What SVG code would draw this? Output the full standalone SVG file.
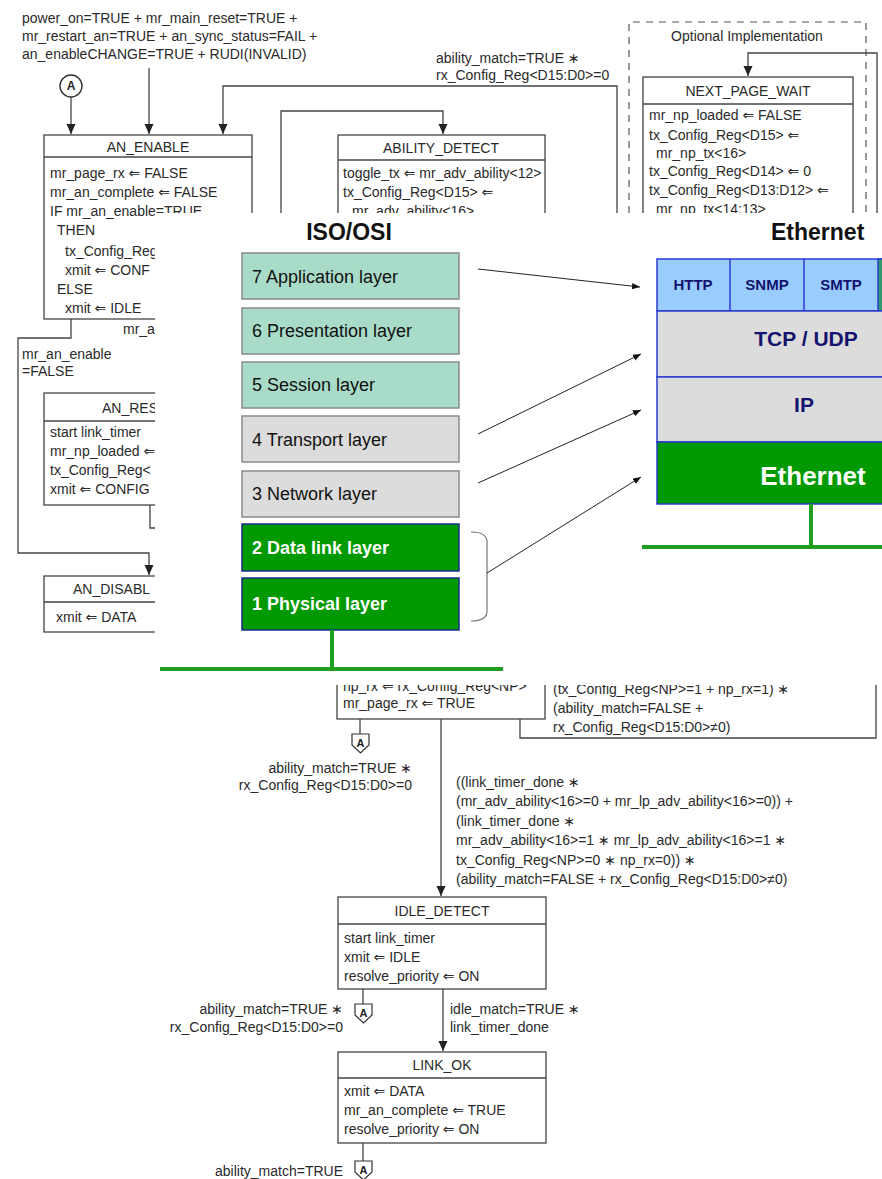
<svg xmlns="http://www.w3.org/2000/svg" width="882" height="1179" viewBox="0 0 882 1179">
<defs>
<style>
.t{font-family:"Liberation Sans",Arial,"DejaVu Sans",sans-serif;font-size:14px;fill:#2a2a2a}
.c{text-anchor:middle}
.r{text-anchor:end}
.box{fill:#fff;stroke:#444;stroke-width:1.3}
.ln{fill:none;stroke:#444;stroke-width:1.3}
.dash{fill:none;stroke:#555;stroke-width:1.2;stroke-dasharray:7,6}
.ol{font-family:"Liberation Sans",Arial,sans-serif}
.teal{fill:#a9dbc9;stroke:#8a8a8a;stroke-width:1.5}
.grey{fill:#dcdcdc;stroke:#8a8a8a;stroke-width:1.5}
.grn{fill:#009900;stroke:#1c2a8c;stroke-width:1.5}
.lt{font-size:18px;fill:#111}
.lw{font-size:18px;fill:#fff;font-weight:bold}
.st{stroke:#2b3bd0;stroke-width:1.5}
.nav{fill:#14146e;font-weight:bold}
.gl{fill:none;stroke:#1f9e1f;stroke-width:4}
.ar{fill:none;stroke:#222;stroke-width:1}
.ca{font-family:"Liberation Sans",Arial,sans-serif;font-size:11px;font-weight:bold;fill:#222;text-anchor:middle}
</style>
<marker id="ah" viewBox="0 0 10 10" refX="10" refY="5" markerWidth="10" markerHeight="10" markerUnits="userSpaceOnUse" orient="auto"><path d="M0,0.5 L10,5 L0,9.5 z" fill="#222"/></marker>
<marker id="sa" viewBox="0 0 10 10" refX="10" refY="5" markerWidth="8" markerHeight="8" markerUnits="userSpaceOnUse" orient="auto"><path d="M0,1 L10,5 L0,9 z" fill="#111"/></marker>
</defs>
<rect width="882" height="1179" fill="#fff"/>

<!-- background state diagram -->
<g id="reset-condition">
<text class="t" x="22" y="23">power_on=TRUE + mr_main_reset=TRUE +</text>
<text class="t" x="22" y="41">mr_restart_an=TRUE + an_sync_status=FAIL +</text>
<text class="t" x="22" y="59">an_enableCHANGE=TRUE + RUDI(INVALID)</text>
</g>
<g id="connector-A-top">
<circle cx="71" cy="86" r="11" fill="#fff" stroke="#333" stroke-width="1.4"/>
<text class="ca" x="71" y="90" style="font-size:12px">A</text>
</g>
<g id="optional-impl">
<path class="dash" d="M629,213 V22 H866 V213"/>
<text class="t c" x="747" y="41">Optional Implementation</text>
</g>

<g id="connectors">
<path class="ln" d="M71,97 V134" marker-end="url(#ah)"/>
<path class="ln" d="M149,68 V134" marker-end="url(#ah)"/>
<path class="ln" d="M617,214 V86 H223 V134" marker-end="url(#ah)"/>
<path class="ln" d="M281,214 V111 H443 V134" marker-end="url(#ah)"/>
<path class="ln" d="M877,214 V53 H748 V76" marker-end="url(#ah)"/>
<path class="ln" d="M71,319 V338 H18 V553 H149 V575" marker-end="url(#ah)"/>
<path class="ln" d="M150,505 V528 H165"/>
<path class="ln" d="M360,719 V734"/>
<path class="ln" d="M441,719 V896" marker-end="url(#ah)"/>
<path class="ln" d="M520,719 V738 H876 V680"/>
<path class="ln" d="M363,989 V1004"/>
<path class="ln" d="M443,989 V1051" marker-end="url(#ah)"/>
<path class="ln" d="M363,1143 V1161"/>
<text class="t" x="436" y="63">ability_match=TRUE ∗</text>
<text class="t" x="436" y="80">rx_Config_Reg&lt;D15:D0&gt;=0</text>
<text class="t" x="123" y="334">mr_a</text>
<text class="t" x="22" y="359">mr_an_enable</text>
<text class="t" x="22" y="376">=FALSE</text>
<text class="t" x="553" y="694">(tx_Config_Reg&lt;NP&gt;=1 + np_rx=1) ∗</text>
<text class="t" x="553" y="713">(ability_match=FALSE +</text>
<text class="t" x="553" y="732">rx_Config_Reg&lt;D15:D0&gt;≠0)</text>
<text class="t r" x="412" y="773">ability_match=TRUE ∗</text>
<text class="t r" x="412" y="790">rx_Config_Reg&lt;D15:D0&gt;=0</text>
<text class="t" x="456" y="787">((link_timer_done ∗</text>
<text class="t" x="456" y="806">(mr_adv_ability&lt;16&gt;=0 + mr_lp_adv_ability&lt;16&gt;=0)) +</text>
<text class="t" x="456" y="826">(link_timer_done ∗</text>
<text class="t" x="456" y="845">mr_adv_ability&lt;16&gt;=1 ∗ mr_lp_adv_ability&lt;16&gt;=1 ∗</text>
<text class="t" x="456" y="865">tx_Config_Reg&lt;NP&gt;=0 ∗ np_rx=0)) ∗</text>
<text class="t" x="456" y="884">(ability_match=FALSE + rx_Config_Reg&lt;D15:D0&gt;≠0)</text>
<text class="t r" x="343" y="1014">ability_match=TRUE ∗</text>
<text class="t r" x="343" y="1032">rx_Config_Reg&lt;D15:D0&gt;=0</text>
<text class="t" x="450" y="1014">idle_match=TRUE ∗</text>
<text class="t" x="450" y="1032">link_timer_done</text>
<text class="t r" x="343" y="1176">ability_match=TRUE</text>
</g>

<g id="AN_ENABLE">
<rect class="box" x="44" y="135" width="208" height="184"/>
<line class="ln" x1="44" y1="157" x2="252" y2="157"/>
<text class="t c" x="148" y="152">AN_ENABLE</text>
<text class="t" x="50" y="178">mr_page_rx ⇐ FALSE</text>
<text class="t" x="50" y="197">mr_an_complete ⇐ FALSE</text>
<text class="t" x="50" y="216">IF mr_an_enable=TRUE</text>
<text class="t" x="57" y="235">THEN</text>
<text class="t" x="65" y="256">tx_Config_Reg</text>
<text class="t" x="65" y="275">xmit ⇐ CONF</text>
<text class="t" x="57" y="294">ELSE</text>
<text class="t" x="65" y="313">xmit ⇐ IDLE</text>
</g>
<g id="ABILITY_DETECT">
<rect class="box" x="338" y="135" width="207" height="100"/>
<line class="ln" x1="338" y1="160" x2="545" y2="160"/>
<text class="t c" x="441" y="153">ABILITY_DETECT</text>
<text class="t" x="343" y="178">toggle_tx ⇐ mr_adv_ability&lt;12&gt;</text>
<text class="t" x="343" y="197">tx_Config_Reg&lt;D15&gt; ⇐</text>
<text class="t" x="352" y="216">mr_adv_ability&lt;16&gt;</text>
</g>
<g id="NEXT_PAGE_WAIT">
<rect class="box" x="643" y="77" width="210" height="160"/>
<line class="ln" x1="643" y1="104" x2="853" y2="104"/>
<text class="t c" x="748" y="96">NEXT_PAGE_WAIT</text>
<text class="t" x="649" y="120">mr_np_loaded ⇐ FALSE</text>
<text class="t" x="649" y="140">tx_Config_Reg&lt;D15&gt; ⇐</text>
<text class="t" x="656" y="158">mr_np_tx&lt;16&gt;</text>
<text class="t" x="649" y="176">tx_Config_Reg&lt;D14&gt; ⇐ 0</text>
<text class="t" x="649" y="195">tx_Config_Reg&lt;D13:D12&gt; ⇐</text>
<text class="t" x="656" y="214">mr_np_tx&lt;14:13&gt;</text>
</g>
<g id="AN_RESTART">
<rect class="box" x="44" y="393" width="208" height="112"/>
<line class="ln" x1="44" y1="421" x2="252" y2="421"/>
<text class="t" x="102" y="413">AN_RES</text>
<text class="t" x="50" y="437">start link_timer</text>
<text class="t" x="50" y="456">mr_np_loaded ⇐</text>
<text class="t" x="50" y="475">tx_Config_Reg&lt;</text>
<text class="t" x="50" y="494">xmit ⇐ CONFIG</text>
</g>
<g id="AN_DISABLE_LINK_OK">
<rect class="box" x="44" y="576" width="208" height="56"/>
<line class="ln" x1="44" y1="602" x2="252" y2="602"/>
<text class="t" x="73" y="594">AN_DISABL</text>
<text class="t" x="56" y="622">xmit ⇐ DATA</text>
</g>
<g id="COMPLETE_ACKNOWLEDGE">
<rect class="box" x="337" y="640" width="208" height="79"/>
<text class="t" x="343" y="691">np_rx ⇐ rx_Config_Reg&lt;NP&gt;</text>
<text class="t" x="343" y="708">mr_page_rx ⇐ TRUE</text>
</g>
<g id="connector-A-1">
<path d="M352,734 H369 V745 L360.5,753 L352,745 Z" fill="#fff" stroke="#333" stroke-width="1.2"/>
<text class="ca" x="360.5" y="747">A</text>
</g>
<g id="IDLE_DETECT">
<rect class="box" x="338" y="897" width="208" height="92"/>
<line class="ln" x1="338" y1="924" x2="546" y2="924"/>
<text class="t c" x="442" y="916">IDLE_DETECT</text>
<text class="t" x="344" y="943">start link_timer</text>
<text class="t" x="344" y="962">xmit ⇐ IDLE</text>
<text class="t" x="344" y="981">resolve_priority ⇐ ON</text>
</g>
<g id="connector-A-2">
<path d="M355,1004 H372 V1015 L363.5,1023 L355,1015 Z" fill="#fff" stroke="#333" stroke-width="1.2"/>
<text class="ca" x="363.5" y="1017">A</text>
</g>
<g id="LINK_OK">
<rect class="box" x="338" y="1052" width="208" height="91"/>
<line class="ln" x1="338" y1="1078" x2="546" y2="1078"/>
<text class="t c" x="442" y="1070">LINK_OK</text>
<text class="t" x="344" y="1096">xmit ⇐ DATA</text>
<text class="t" x="344" y="1115">mr_an_complete ⇐ TRUE</text>
<text class="t" x="344" y="1134">resolve_priority ⇐ ON</text>
</g>
<g id="connector-A-3">
<path d="M355,1161 H372 V1172 L363.5,1180 L355,1172 Z" fill="#fff" stroke="#333" stroke-width="1.2"/>
<text class="ca" x="363.5" y="1174">A</text>
</g>

<!-- overlay: ISO/OSI vs Ethernet -->
<rect id="overlay" x="155" y="213" width="727" height="472" fill="#fff"/>
<g id="iso-osi">
<text class="ol" x="349" y="240" text-anchor="middle" style="font-size:23px;font-weight:bold;fill:#111">ISO/OSI</text>
<g id="L7"><rect class="teal" x="242" y="253" width="217" height="46"/><text class="ol lt" x="252" y="283">7 Application layer</text></g>
<g id="L6"><rect class="teal" x="242" y="308" width="217" height="46"/><text class="ol lt" x="252" y="337">6 Presentation layer</text></g>
<g id="L5"><rect class="teal" x="242" y="362" width="217" height="46"/><text class="ol lt" x="252" y="391">5 Session layer</text></g>
<g id="L4"><rect class="grey" x="242" y="416" width="217" height="46"/><text class="ol lt" x="252" y="446">4 Transport layer</text></g>
<g id="L3"><rect class="grey" x="242" y="471" width="217" height="46"/><text class="ol lt" x="252" y="500">3 Network layer</text></g>
<g id="L2"><rect class="grn" x="242" y="524" width="217" height="47"/><text class="ol lw" x="252" y="554">2 Data link layer</text></g>
<g id="L1"><rect class="grn" x="242" y="578" width="217" height="52"/><text class="ol lw" x="252" y="610">1 Physical layer</text></g>
<path id="bracket" d="M471,532 Q487,532 487,542 V611 Q487,621 471,621" fill="none" stroke="#777" stroke-width="1.2"/>
<path class="gl" d="M332,630 V669 M160,669 H503"/>
</g>
<g id="ethernet-stack">
<text class="ol" x="771" y="240" style="font-size:23px;font-weight:bold;fill:#111">Ethernet</text>
<rect x="657" y="259" width="240" height="52" fill="#99ccff" class="st"/>
<line class="st" x1="730" y1="259" x2="730" y2="311"/>
<line class="st" x1="804" y1="259" x2="804" y2="311"/>
<rect x="878" y="259" width="10" height="52" fill="#2e9a6e" class="st"/>
<text class="ol nav" x="693" y="290" text-anchor="middle" style="font-size:15px">HTTP</text>
<text class="ol nav" x="767" y="290" text-anchor="middle" style="font-size:15px">SNMP</text>
<text class="ol nav" x="841" y="290" text-anchor="middle" style="font-size:15px">SMTP</text>
<rect x="657" y="311" width="240" height="66" fill="#dcdcdc" class="st"/>
<text class="ol nav" x="806" y="346" text-anchor="middle" style="font-size:21px">TCP / UDP</text>
<rect x="657" y="377" width="240" height="65" fill="#dcdcdc" class="st"/>
<text class="ol nav" x="804" y="412" text-anchor="middle" style="font-size:21px">IP</text>
<rect x="657" y="442" width="240" height="62" fill="#009900" class="st"/>
<text class="ol" x="813" y="485" text-anchor="middle" style="font-size:26px;font-weight:bold;fill:#fff">Ethernet</text>
<path class="gl" d="M811,504 V547 M642,547 H882"/>
</g>
<g id="mapping-arrows">
<path class="ar" d="M478,269 L640,287" marker-end="url(#sa)"/>
<path class="ar" d="M478,434 L641,354" marker-end="url(#sa)"/>
<path class="ar" d="M478,483 L641,410" marker-end="url(#sa)"/>
<path class="ar" d="M487,573 L641,477" marker-end="url(#sa)"/>
</g>
</svg>
